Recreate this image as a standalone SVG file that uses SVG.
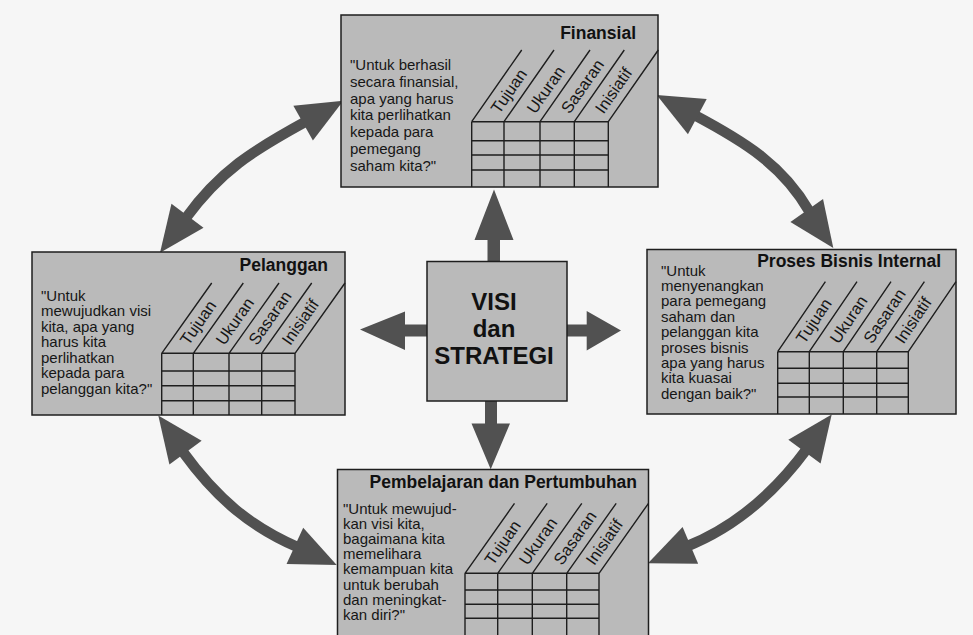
<svg xmlns="http://www.w3.org/2000/svg" width="973" height="635" viewBox="0 0 973 635">
<style>
.box{fill:#bababa;stroke:#1e1e1e;stroke-width:1.5}
.grid{fill:none;stroke:#1e1e1e;stroke-width:1.4}
.t{font-family:"Liberation Sans",Arial,sans-serif;font-size:15px;fill:#161616}
.ttl{font-family:"Liberation Sans",Arial,sans-serif;font-size:17.5px;font-weight:bold;fill:#111}
.lbl{font-family:"Liberation Sans",Arial,sans-serif;font-size:16.5px;fill:#161616}
.ctr{font-family:"Liberation Sans",Arial,sans-serif;font-size:24px;font-weight:bold;fill:#111;text-anchor:middle}
.shaft{fill:none;stroke:#515151;stroke-width:10.5}
.arr{fill:#515151}
</style>
<defs>
<path id="head" d="M0,0 L-46,-20 L-46,20 Z" fill="#515151"/>
</defs>
<rect x="0" y="0" width="973" height="635" fill="#f6f6f6"/>

<g id="connectors">
  <polygon class="arr" points="494,189.5 513.5,240 500,240 500,263 487.5,263 487.5,240 474.5,240"/>
  <polygon class="arr" points="485,399 497,399 497,423.5 510,423.5 490.7,469.3 471.5,423.5 485,423.5"/>
  <polygon class="arr" points="360,329.5 405,311.5 405,324.5 429,324.5 429,336.5 405,336.5 405,350"/>
  <polygon class="arr" points="621,330.5 586.7,311 586.7,324.5 565,324.5 565,336.5 586.7,336.5 586.7,350.5"/>

  <path class="shaft" d="M306.6,121.2 C252,151 220,171 185.1,219.0"/>
  <use href="#head" transform="translate(343.3,100.7) rotate(-29.2)"/>
  <use href="#head" transform="translate(160,252.7) rotate(126.7)"/>

  <path class="shaft" d="M693.7,114.7 C747,143 783,166 809.0,210.8"/>
  <use href="#head" transform="translate(656.7,95) rotate(-152)"/>
  <use href="#head" transform="translate(833.3,248) rotate(54.7)"/>

  <path class="shaft" d="M183.1,452.2 C217,499 251,527 298.5,547.5"/>
  <use href="#head" transform="translate(158.3,415.5) rotate(-126.3)"/>
  <use href="#head" transform="translate(336.7,565) rotate(24.6)"/>

  <path class="shaft" d="M806.9,448.9 C773,495 731,529 685.4,547.0"/>
  <use href="#head" transform="translate(831.7,414.5) rotate(-53.7)"/>
  <use href="#head" transform="translate(648,563.3) rotate(157.1)"/>
</g>

<g id="finansial">
  <rect class="box" x="341" y="15" width="317" height="172"/>
  <text class="ttl" x="636" y="39" text-anchor="end">Finansial</text>
  <text class="t" x="350" y="70" font-size="15.5">"Untuk berhasil</text>
  <text class="t" x="350" y="86.8" font-size="15.5">secara finansial,</text>
  <text class="t" x="350" y="103.6" font-size="15.5">apa yang harus</text>
  <text class="t" x="350" y="120.4" font-size="15.5">kita perlihatkan</text>
  <text class="t" x="350" y="137.2" font-size="15.5">kepada para</text>
  <text class="t" x="350" y="154" font-size="15.5">pemegang</text>
  <text class="t" x="350" y="170.8" font-size="15.5">saham kita?"</text>
  <path class="grid" d="M471.7,121.7H608.3M471.7,140.7H608.3M471.7,155H608.3M471.7,170H608.3M471.7,121.7V187M504,121.7V187M540,121.7V187M574.3,121.7V187M608.3,121.7V187M471.7,121.7l50,-71.7M504,121.7l50,-71.7M540,121.7l50,-71.7M574.3,121.7l50,-71.7M608.3,121.7l50,-71.7"/>
  <text class="lbl" transform="translate(499.2,114.7) rotate(-55)">Tujuan</text>
  <text class="lbl" transform="translate(535.2,114.7) rotate(-55)">Ukuran</text>
  <text class="lbl" transform="translate(569.5,114.7) rotate(-55)">Sasaran</text>
  <text class="lbl" transform="translate(603.5,114.7) rotate(-55)">Inisiatif</text>
</g>

<g id="pelanggan">
  <rect class="box" x="32" y="252" width="313" height="163"/>
  <text class="ttl" x="328" y="271" text-anchor="end">Pelanggan</text>
  <text class="t" x="41" y="300.5">"Untuk</text>
  <text class="t" x="41" y="316">mewujudkan visi</text>
  <text class="t" x="41" y="331.5">kita, apa yang</text>
  <text class="t" x="41" y="347">harus kita</text>
  <text class="t" x="41" y="362.5">perlihatkan</text>
  <text class="t" x="41" y="378">kepada para</text>
  <text class="t" x="41" y="393.5">pelanggan kita?"</text>
  <path class="grid" d="M161.7,353.3H295M161.7,371H295M161.7,385.7H295M161.7,400.7H295M161.7,353.3V415M193.3,353.3V415M229,353.3V415M261.7,353.3V415M295,353.3V415M161.7,353.3l50,-70.3M193.3,353.3l50,-70.3M229,353.3l50,-70.3M261.7,353.3l50,-70.3M295,353.3l50,-70.3"/>
  <text class="lbl" transform="translate(188.5,346.3) rotate(-55)">Tujuan</text>
  <text class="lbl" transform="translate(224.2,346.3) rotate(-55)">Ukuran</text>
  <text class="lbl" transform="translate(256.9,346.3) rotate(-55)">Sasaran</text>
  <text class="lbl" transform="translate(290.2,346.3) rotate(-55)">Inisiatif</text>
</g>

<g id="proses-bisnis-internal">
  <rect class="box" x="647" y="249.5" width="309" height="164.5"/>
  <text class="ttl" x="941" y="267" text-anchor="end">Proses Bisnis Internal</text>
  <text class="t" x="661" y="275.5">"Untuk</text>
  <text class="t" x="661" y="291">menyenangkan</text>
  <text class="t" x="661" y="306.3">para pemegang</text>
  <text class="t" x="661" y="321.7">saham dan</text>
  <text class="t" x="661" y="337">pelanggan kita</text>
  <text class="t" x="661" y="352.5">proses bisnis</text>
  <text class="t" x="661" y="368">apa yang harus</text>
  <text class="t" x="661" y="383.3">kita kuasai</text>
  <text class="t" x="661" y="398.7">dengan baik?"</text>
  <path class="grid" d="M777.7,351.7H908.3M777.7,368.3H908.3M777.7,383.3H908.3M777.7,397H908.3M777.7,351.7V414M809.3,351.7V414M843.3,351.7V414M876.7,351.7V414M908.3,351.7V414M777.7,351.7l47.7,-70M809.3,351.7l47.7,-70M843.3,351.7l47.7,-70M876.7,351.7l47.7,-70M908.3,351.7l47.7,-70"/>
  <text class="lbl" transform="translate(804.5,344.7) rotate(-56)">Tujuan</text>
  <text class="lbl" transform="translate(838.5,344.7) rotate(-56)">Ukuran</text>
  <text class="lbl" transform="translate(871.9,344.7) rotate(-56)">Sasaran</text>
  <text class="lbl" transform="translate(903.5,344.7) rotate(-56)">Inisiatif</text>
</g>

<g id="pembelajaran-dan-pertumbuhan">
  <rect class="box" x="337.5" y="469.5" width="311" height="200"/>
  <text class="ttl" x="637" y="487.5" text-anchor="end" font-size="18">Pembelajaran dan Pertumbuhan</text>
  <text class="t" x="343" y="513.5">"Untuk mewujud-</text>
  <text class="t" x="343" y="528.7">kan visi kita,</text>
  <text class="t" x="343" y="543.9">bagaimana kita</text>
  <text class="t" x="343" y="559.1">memelihara</text>
  <text class="t" x="343" y="574.3">kemampuan kita</text>
  <text class="t" x="343" y="589.5">untuk berubah</text>
  <text class="t" x="343" y="604.7">dan meningkat-</text>
  <text class="t" x="343" y="619.9">kan diri?"</text>
  <path class="grid" d="M465,573.3H599M465,590H599M465,604.3H599M465,618.3H599M465,573.3V640M497.7,573.3V640M532.3,573.3V640M566.7,573.3V640M599,573.3V640M465,573.3l49.5,-70M497.7,573.3l49.5,-70M532.3,573.3l49.5,-70M566.7,573.3l49.5,-70M599,573.3l49.5,-70"/>
  <text class="lbl" transform="translate(492.9,566.3) rotate(-55)">Tujuan</text>
  <text class="lbl" transform="translate(527.5,566.3) rotate(-55)">Ukuran</text>
  <text class="lbl" transform="translate(561.9,566.3) rotate(-55)">Sasaran</text>
  <text class="lbl" transform="translate(594.2,566.3) rotate(-55)">Inisiatif</text>
</g>

<g id="visi-dan-strategi">
  <rect class="box" x="427" y="261.5" width="140" height="139.5"/>
  <text class="ctr" x="494" y="310">VISI</text>
  <text class="ctr" x="494" y="337">dan</text>
  <text class="ctr" x="494" y="363.5">STRATEGI</text>
</g>
</svg>
